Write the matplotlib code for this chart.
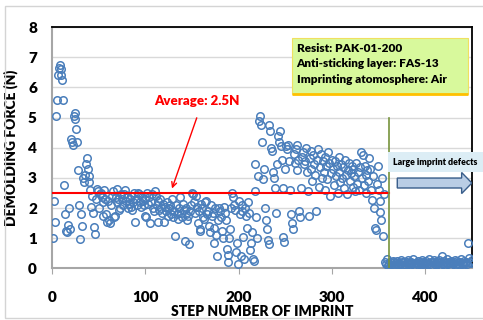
import matplotlib
matplotlib.use("Agg")
import matplotlib.pyplot as plt
from matplotlib.patches import Rectangle, FancyArrow
import numpy as np

plt.rcParams["font.family"] = ["Lato", "DejaVu Sans"]
plt.rcParams["font.weight"] = "bold"

# demolding force (N) for each imprint step
FORCE_1_100 = [
    1.02, 2.25, 1.55, 5.05, 5.60, 6.40, 6.65, 6.75, 6.60, 6.40,
    6.25, 5.58, 2.75, 1.80, 1.25, 1.20, 1.45, 2.00, 1.30, 4.30,
    4.20, 4.10, 5.05, 5.15, 4.95, 4.62, 4.20, 3.25, 2.10, 0.97,
    1.80, 1.40, 3.00, 2.88, 3.10, 3.45, 3.65, 3.30, 3.05, 2.85,
    2.60, 2.02, 2.40, 1.85, 1.38, 1.15, 2.30, 2.62, 2.55, 2.00,
    2.45, 2.50, 2.35, 2.20, 1.75, 2.60, 2.30, 1.80, 1.55, 2.25,
    1.60, 1.50, 2.10, 2.40, 2.55, 1.70, 1.75, 2.35, 2.62, 2.20,
    2.30, 1.95, 2.00, 2.45, 2.30, 2.10, 2.45, 2.60, 2.25, 2.35,
    2.00, 2.15, 2.30, 2.40, 2.05, 1.95, 2.20, 2.50, 1.53, 2.30,
    2.10, 2.50, 2.45, 2.20, 2.05, 2.35, 2.25, 2.10, 1.75, 2.30,
]
FORCE_101_200 = [
    1.70, 2.50, 2.15, 2.35, 1.50, 2.20, 2.45, 2.00, 1.90, 2.55,
    2.40, 2.10, 1.55, 2.25, 1.95, 2.30, 2.00, 1.85, 2.15, 1.53,
    2.05, 1.90, 2.20, 1.75, 2.00, 2.10, 1.80, 1.95, 2.30, 1.70,
    1.90, 1.07, 2.10, 1.80, 1.65, 2.00, 2.35, 1.85, 1.70, 2.15,
    1.95, 0.90, 1.80, 2.00, 1.60, 1.75, 0.80, 1.90, 2.10, 2.50,
    2.45, 2.20, 1.85, 2.40, 2.05, 1.50, 1.90, 1.30, 1.25, 2.15,
    2.00, 1.70, 1.65, 2.20, 2.25, 1.80, 1.90, 1.40, 1.20, 2.10,
    1.75, 1.85, 1.35, 0.85, 2.00, 1.10, 0.40, 1.60, 2.00, 1.90,
    1.70, 1.25, 1.00, 2.05, 1.85, 1.60, 0.65, 0.45, 0.20, 1.00,
    1.30, 2.00, 2.50, 2.35, 2.10, 1.95, 0.55, 0.85, 0.15, 2.25,
]
FORCE_201_300 = [
    1.80, 0.40, 2.10, 1.90, 1.05, 0.30, 2.00, 1.75, 1.35, 2.20,
    1.85, 0.60, 0.85, 1.20, 0.30, 0.25, 2.55, 3.47, 1.70, 1.00,
    3.05, 4.90, 5.05, 4.75, 4.20, 2.95, 3.30, 2.00, 1.60, 1.30,
    0.95, 0.80, 4.75, 4.55, 4.00, 3.90, 3.20, 3.00, 2.65, 1.85,
    3.45, 4.40, 4.20, 4.55, 4.05, 3.60, 2.65, 1.05, 0.88, 3.30,
    4.05, 3.95, 4.10, 3.55, 2.60, 1.80, 1.50, 1.30, 3.80, 3.50,
    3.95, 3.25, 4.10, 3.60, 1.90, 1.70, 2.65, 3.70, 3.85, 3.45,
    3.55, 4.00, 3.20, 2.55, 1.75, 3.65, 3.90, 3.30, 2.90, 3.75,
    3.45, 3.10, 1.90, 3.60, 3.95, 2.70, 3.35, 3.80, 3.00, 3.55,
    3.20, 2.60, 3.70, 3.40, 2.95, 3.85, 3.50, 2.40, 3.15, 3.60,
]
FORCE_301_360 = [
    3.30, 2.75, 3.55, 3.05, 3.40, 2.50, 3.70, 3.20, 2.85, 3.45,
    3.00, 3.35, 2.65, 3.60, 3.10, 2.45, 3.25, 3.50, 2.90, 3.15,
    3.40, 2.70, 3.30, 3.05, 2.55, 3.50, 2.80, 3.20, 2.60, 3.35,
    3.85, 3.00, 3.75, 2.75, 3.40, 3.10, 2.50, 3.25, 2.90, 3.65,
    3.30, 2.60, 2.27, 3.05, 2.00, 1.35, 1.27, 2.80, 3.40, 2.60,
    2.25, 1.87, 1.60, 3.00, 1.07, 2.45, 0.20, 0.15, 0.30, 0.10,
]
FORCE_361_450 = [
    0.15, 0.22, 0.10, 0.18, 0.25, 0.12, 0.20, 0.08, 0.16, 0.24,
    0.10, 0.18, 0.14, 0.28, 0.20, 0.12, 0.22, 0.15, 0.09, 0.20,
    0.26, 0.13, 0.18, 0.10, 0.22, 0.16, 0.30, 0.12, 0.19, 0.08,
    0.17, 0.24, 0.14, 0.20, 0.11, 0.27, 0.16, 0.21, 0.10, 0.18,
    0.25, 0.13, 0.19, 0.30, 0.15, 0.22, 0.09, 0.20, 0.26, 0.14,
    0.18, 0.12, 0.23, 0.16, 0.28, 0.10, 0.20, 0.42, 0.15, 0.24,
    0.11, 0.19, 0.30, 0.14, 0.22, 0.17, 0.09, 0.25, 0.18, 0.13,
    0.20, 0.28, 0.12, 0.24, 0.16, 0.10, 0.21, 0.30, 0.15, 0.19,
    0.12, 0.25, 0.18, 0.22, 0.14, 0.84, 0.35, 0.20, 0.16, 0.28,
]
force = np.array(FORCE_1_100 + FORCE_101_200 + FORCE_201_300 + FORCE_301_360 + FORCE_361_450)
steps = np.arange(1, len(force) + 1)

AVERAGE = 2.5
DEFECT_STEP = 361
X_TICKS = [0, 100, 200, 300, 400]
Y_TICKS = [0, 1, 2, 3, 4, 5, 6, 7, 8]
INFO_LINES = ["Resist: PAK-01-200", "Anti-sticking layer: FAS-13", "Imprinting atomosphere: Air"]

fig = plt.figure(figsize=(4.83, 3.2), dpi=100)
ax = fig.add_axes([0.108, 0.1615, 0.869, 0.7535])

# outer chart frame
fig.patches.append(Rectangle((0.011, 0.005), 1.2, 0.976, transform=fig.transFigure,
                             fill=False, ec="#d4d4d4", lw=1.0))

ax.set_xlim(0, 450)
ax.set_ylim(0, 8)
ax.set_xticks(X_TICKS)
ax.set_yticks(Y_TICKS)
ax.yaxis.grid(True, color="#d9d9d9", lw=1.0)
ax.set_axisbelow(True)
for side in ["left", "bottom"]:
    ax.spines[side].set_color("#a6a6a6")
    ax.spines[side].set_linewidth(1.5)
for side in ["top", "right"]:
    ax.spines[side].set_color("black")
    ax.spines[side].set_linewidth(1.3)
ax.tick_params(axis="x", length=4, color="#a6a6a6", pad=12, labelsize=11)
ax.tick_params(axis="y", length=0, pad=11, labelsize=11)
for lab in ax.get_xticklabels() + ax.get_yticklabels():
    lab.set_fontweight("heavy")

ax.plot(steps, force, "o", mfc="none", mec="#4a7ebb", ms=5.4, mew=1.1, zorder=3)

ax.plot([0, DEFECT_STEP], [AVERAGE, AVERAGE], color="red", lw=1.5, zorder=4)
ax.plot([DEFECT_STEP, DEFECT_STEP], [0, 5.0], color="#77933c", lw=1.2, zorder=4)

ax.text(155, 5.56, "Average: 2.5N", color="red", fontsize=9.5, fontweight="heavy",
        ha="center", va="center")
ax.annotate("", xy=(127.5, 2.56), xytext=(156, 5.08),
            arrowprops=dict(arrowstyle="->", color="red", lw=1.0, mutation_scale=9))

# info box
ax.add_patch(Rectangle((257, 5.79), 189, 1.86, fc="#d8f99c", ec="#f0e060", lw=0.8, zorder=5))
ax.plot([257, 446], [5.79, 5.79], color="#ffc000", lw=2.0, zorder=6, solid_capstyle="butt")
for i, line in enumerate(INFO_LINES):
    ax.text(262, 7.3 - i * 0.52, line, fontsize=8.5, fontweight="heavy",
            va="center", ha="left", zorder=7)

# large imprint defects label and arrow
ax.add_patch(Rectangle((360, 3.2), 102, 0.66, fc="#dcedf5", ec="none", hatch="++++",
                       clip_on=False, zorder=5))
ax.text(411, 3.52, "Large imprint defects", fontsize=6.3, fontweight="heavy",
        ha="center", va="center", zorder=6, clip_on=False)
ax.add_patch(FancyArrow(370, 2.83, 80, 0, width=0.33, head_width=0.7, head_length=11,
                        length_includes_head=True, fc="#b9cde5", ec="#385d8a", lw=1.0, zorder=5))

ax.set_xlabel("STEP NUMBER OF IMPRINT", fontsize=10, fontweight="heavy", labelpad=1)
ax.set_ylabel("DEMOLDING FORCE (N)", fontsize=10, fontweight="heavy", labelpad=7)

fig.savefig("out.png", dpi=100)
